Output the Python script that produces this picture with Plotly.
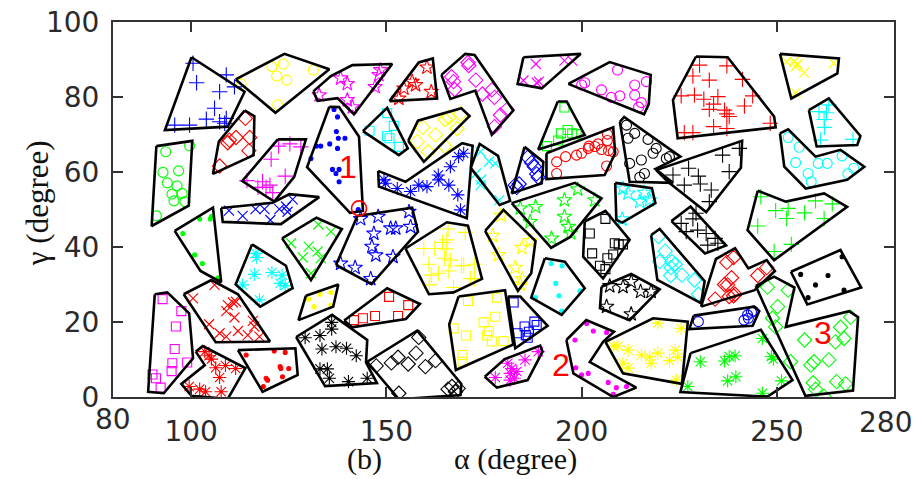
import plotly.graph_objects as go

# ---------------- data (alpha, gamma in degrees) ----------------
blue_plus_hull = [(100.1,90.6),(113.7,81.4),(109.4,72.1),(93.3,71.2)]
blue_plus_pts = [(100.5,89.0),(101.4,83.8),(109.0,85.9),(111.1,82.7),(107.3,81.4),(106.0,77.0),(103.9,74.1),(109.0,74.3),(108.6,73.0),(99.6,72.5),(95.8,72.5),(107.3,73.4)]

yellow_circle_hull = [(111.4,84.7),(123.9,91.5),(135.4,87.4),(121.6,75.8)]
yellow_circle_pts = [(120.7,88.1),(123.6,88.8),(121.9,85.6),(124.5,84.5),(131.3,87.2),(112.8,83.5),(122.2,77.9)]

red_diamond_a_hull = [(113.7,76.4),(116.2,74.9),(116.0,64.5),(105.6,59.5),(107.1,68.1)]
red_diamond_a_pts = [(113.9,74.3),(115.0,69.2),(111.5,69.2),(109.8,68.5),(109.4,67.8),(114.8,65.7),(107.3,61.6)]

green_circle_hull = [(91.1,66.9),(100.3,68.3),(99.4,51.0),(89.9,45.6)]
green_circle_pts = [(93.5,65.4),(99.6,67.0),(92.8,59.9),(96.8,60.3),(93.9,57.1),(96.4,56.3),(95.1,54.1),(97.7,54.3),(95.6,52.3),(98.4,52.1),(91.1,48.3)]

magenta_plus_hull = [(122.2,68.7),(129.4,68.7),(126.4,58.7),(121.3,52.1),(113.1,57.6)]
magenta_plus_pts = [(122.4,66.9),(125.3,67.5),(128.1,66.7),(120.5,63.4),(124.1,58.9),(118.3,57.4),(120.2,56.5),(119.2,55.9),(117.1,55.9),(120.9,54.5),(114.3,57.7)]

magenta_star_hull = [(131.3,81.5),(135.8,85.6),(141.3,88.5),(151.5,88.8),(141.7,75.4),(137.5,79.7),(132.4,79.0)]
magenta_star_pts = [(148.5,87.2),(148.1,85.9),(147.1,82.7),(138.3,85.0),(140.0,83.5),(132.8,80.5),(140.0,79.2),(141.3,77.3)]

red_star_hull = [(150.8,78.9),(158.3,89.2),(161.9,90.3),(163.0,79.6)]
red_star_pts = [(160.4,87.9),(156.6,84.1),(157.5,83.2),(154.5,82.3),(161.5,81.4),(153.2,79.6)]

magenta_diamond_hull = [(164.1,85.9),(170.2,91.5),(172.6,91.2),(182.5,76.4),(177.0,69.9),(172.8,81.7),(166.4,79.5)]
magenta_diamond_pts = [(170.9,89.2),(171.1,88.4),(166.7,85.4),(167.2,84.1),(167.5,82.0),(172.9,84.5),(174.6,80.8),(177.0,81.9),(177.7,79.9),(179.2,75.2),(180.9,76.7),(177.7,72.1)]

magenta_x_hull = [(185.1,90.6),(199.8,91.5),(189.8,82.3),(183.6,83.5)]
magenta_x_pts = [(188.3,88.8),(195.6,89.7),(197.6,89.7),(185.1,84.4),(188.5,83.8),(189.1,84.1)]

magenta_circle_hull = [(196.6,83.5),(207.2,89.3),(217.7,85.9),(217.2,78.1),(216.0,75.4)]
magenta_circle_pts = [(209.2,87.2),(200.8,83.8),(200.0,83.2),(205.1,81.9),(207.6,79.9),(209.8,80.3),(213.6,83.2),(213.6,80.5),(216.6,84.1),(215.3,78.5),(214.6,77.3)]

red_plus_hull = [(229.3,90.8),(237.4,90.6),(249.3,74.8),(249.7,71.9),(224.6,69.0),(223.4,79.2)]
red_plus_pts = [(230.2,88.5),(237.2,88.3),(228.5,85.6),(232.7,84.5),(241.2,84.7),(225.5,80.3),(228.9,80.5),(231.3,79.4),(234.9,80.1),(233.8,78.1),(243.8,80.3),(241.7,77.6),(232.7,76.7),(236.6,76.5),(237.2,75.5),(237.8,74.8),(248.3,73.0),(233.8,72.1),(237.2,71.6),(226.3,70.5),(228.5,70.5)]

yellow_x_hull = [(250.8,91.5),(265.9,90.3),(265.5,86.3),(253.7,79.6)]
yellow_x_pts = [(252.5,89.4),(254.4,89.4),(254.8,88.1),(255.3,88.8),(257.0,86.5),(264.6,89.0),(254.8,81.1)]

cyan_plus_hull = [(258.2,76.5),(263.3,79.6),(271.4,69.6),(270.6,67.2),(260.2,66.8)]
cyan_plus_pts = [(263.3,77.9),(260.8,76.1),(262.7,75.8),(262.1,74.0),(262.2,71.9),(261.2,68.5),(269.5,68.7)]

cyan_circle_hull = [(250.8,70.3),(252.9,71.4),(259.9,64.1),(266.3,65.9),(272.4,61.4),(268.0,57.9),(257.4,55.6),(251.9,61.4)]
cyan_circle_pts = [(252.9,69.2),(255.7,66.6),(254.8,62.5),(260.6,62.3),(262.9,62.3),(266.7,64.3),(269.7,61.0),(268.2,59.5),(258.0,59.6),(258.8,57.4)]

blue_dot_hull = [(135.4,77.4),(137.9,77.3),(143.0,69.4),(144.0,49.6),(140.7,49.1),(129.7,61.3)]
blue_dot_pts = [(136.6,76.7),(137.5,74.7),(137.2,70.8),(137.7,69.0),(139.4,69.0),(135.5,67.5),(132.1,66.9),(133.2,66.9),(137.5,66.3),(136.2,60.7),(137.9,60.7),(137.1,59.6),(137.9,57.4),(130.7,63.6),(142.8,50.0)]

cyan_square_hull = [(144.0,70.9),(150.2,77.1),(155.5,66.3),(153.2,64.5)]
cyan_square_pts = [(150.2,75.7),(151.9,72.3),(145.7,71.0),(150.2,69.6),(150.8,69.0),(153.2,66.7)]

yellow_diamond_hull = [(155.6,68.3),(158.1,73.7),(169.2,77.0),(171.3,74.9),(159.6,62.7)]
yellow_diamond_pts = [(159.3,71.9),(162.6,69.9),(165.0,74.0),(166.0,74.6),(169.0,75.5),(168.1,71.6),(165.0,66.8),(160.7,65.4),(157.9,68.1)]

blue_asterisk_hull = [(147.9,60.3),(154.9,57.4),(169.4,67.7),(172.1,67.0),(170.6,47.7),(148.1,56.1)]
blue_asterisk_pts = [(149.4,57.9),(149.8,57.0),(152.8,55.6),(156.2,54.8),(158.3,56.5),(160.4,56.1),(163.3,59.2),(163.4,57.9),(166.0,56.5),(166.4,61.4),(168.5,64.1),(169.8,65.0),(168.3,53.9),(169.0,49.9)]

cyan_x_hull = [(171.6,61.1),(173.9,67.5),(178.6,64.3),(181.7,52.3),(179.0,51.2)]
cyan_x_pts = [(174.1,65.4),(176.3,62.8),(177.9,62.3),(173.0,59.6),(174.3,58.0),(174.1,56.5),(178.9,52.5)]

blue_diamond_hull = [(185.4,66.7),(190.2,62.7),(189.8,57.0),(182.1,54.3)]
blue_diamond_pts = [(186.2,63.9),(187.2,62.5),(187.9,61.4),(188.5,59.5),(188.9,58.6),(183.0,56.5),(183.4,55.9),(184.0,56.8)]

green_square_hull = [(193.9,78.8),(196.2,78.8),(200.8,69.9),(188.9,66.0)]
green_square_pts = [(195.6,77.2),(194.7,70.3),(196.4,71.2),(197.6,70.3),(198.7,70.1),(191.1,66.9),(194.0,68.4)]

red_circle_hull = [(191.0,65.0),(208.1,71.9),(208.6,65.0),(205.9,59.2),(191.0,58.1)]
red_circle_pts = [(193.6,62.7),(195.9,64.1),(198.7,64.5),(200.0,65.0),(201.9,66.9),(204.2,67.5),(206.6,70.1),(206.6,68.4),(205.1,66.0),(206.9,65.7),(208.1,65.4),(206.4,61.6),(193.6,59.6),(201.7,66.3),(203.4,66.8)]

black_circle_hull = [(209.8,73.4),(210.9,74.7),(225.3,64.1),(218.9,60.8),(223.4,57.1),(212.3,57.4)]
black_circle_pts = [(211.5,72.5),(213.6,70.3),(211.9,69.0),(217.0,68.7),(219.1,66.3),(218.3,65.0),(221.7,63.6),(222.5,64.1),(212.3,62.3),(215.3,63.2),(216.1,59.6),(214.9,58.6)]

black_plus_a_hull = [(219.1,60.5),(241.1,68.3),(240.8,61.1),(231.9,49.3),(222.1,57.4)]
black_plus_a_pts = [(240.4,66.3),(236.1,64.5),(227.4,61.0),(229.9,58.9),(223.4,59.2),(230.4,56.8),(233.2,55.2),(226.3,56.5),(237.8,60.1),(232.7,52.1)]

cyan_star_hull = [(208.6,57.1),(218.0,55.7),(218.9,51.7),(210.4,46.5),(208.9,47.2)]
cyan_star_pts = [(210.6,55.6),(211.9,54.3),(216.1,54.5),(214.9,52.1),(217.4,52.5),(210.4,47.4)]

green_plus_hull = [(245.1,55.0),(252.3,52.1),(262.1,54.3),(268.0,50.7),(249.3,36.5),(242.5,44.5)]
green_plus_pts = [(245.9,53.4),(249.7,49.7),(252.9,50.3),(252.5,47.6),(257.1,49.1),(259.9,52.3),(264.2,51.5),(262.1,47.6),(245.1,45.6),(249.3,38.8),(253.7,40.7)]

blue_x_hull = [(107.7,50.4),(120.9,51.8),(125.2,54.1),(132.8,53.3),(123.0,46.1),(108.1,46.7)]
blue_x_pts = [(109.7,49.7),(113.2,48.3),(116.5,50.1),(118.8,50.1),(120.3,47.2),(122.6,50.1),(124.3,50.8),(126.0,52.7),(124.7,49.4)]

green_dot_hull = [(95.8,44.3),(105.6,50.5),(107.7,30.6),(102.4,33.6)]
green_dot_pts = [(102.2,47.5),(105.2,48.1),(104.9,47.5),(97.9,43.6),(100.9,37.9),(102.9,35.6),(106.9,31.8)]

cyan_asterisk_hull = [(115.6,40.7),(124.3,35.0),(126.0,29.0),(117.7,24.1),(111.4,30.0)]
cyan_asterisk_pts = [(116.6,38.3),(116.8,37.2),(116.2,32.7),(120.7,33.2),(123.3,32.5),(122.8,30.3),(124.1,29.7),(113.2,29.9),(117.5,25.9)]

green_x_hull = [(123.3,42.3),(132.1,47.8),(138.6,44.8),(130.7,31.2)]
green_x_pts = [(132.6,46.0),(135.8,44.1),(125.6,41.0),(130.1,40.1),(132.4,38.8),(128.6,37.2),(133.2,37.0),(130.7,33.0)]

blue_star_hull = [(137.1,35.2),(142.6,48.3),(156.6,50.5),(158.1,44.1),(146.2,30.1)]
blue_star_pts = [(143.4,47.5),(147.9,48.1),(155.8,49.4),(151.1,45.0),(152.4,45.0),(156.2,45.4),(146.8,43.6),(146.3,40.1),(147.3,37.8),(151.7,37.4),(146.0,31.5),(142.0,34.5),(138.3,35.6)]

yellow_plus_hull = [(154.9,39.6),(165.5,46.6),(170.9,45.7),(174.5,31.5),(167.2,27.9),(160.9,27.4)]
yellow_plus_pts = [(165.8,44.8),(170.2,43.9),(165.5,41.9),(164.4,41.2),(159.6,39.6),(162.4,39.6),(165.3,39.5),(164.9,37.0),(166.4,36.5),(160.9,35.4),(169.2,35.0),(169.8,35.0),(172.6,35.4),(166.0,33.6),(161.5,32.5),(163.3,33.0),(171.5,31.6),(172.6,31.5),(161.0,29.9),(167.2,29.2)]

yellow_star_hull = [(175.3,44.3),(180.0,49.9),(188.2,41.6),(187.1,33.0),(183.7,28.3)]
yellow_star_pts = [(179.4,48.4),(177.2,43.0),(178.7,37.9),(184.7,39.8),(186.8,41.6),(183.0,34.5),(184.8,31.5),(184.3,30.0)]

green_star_hull = [(182.1,51.7),(198.3,57.1),(205.1,53.0),(197.1,42.7),(192.2,39.8)]
green_star_pts = [(184.3,50.3),(188.2,50.7),(195.6,52.5),(199.0,55.4),(203.4,52.5),(195.6,48.1),(196.6,45.4),(197.2,43.7),(192.3,42.3),(186.8,46.7)]

black_square_hull = [(200.8,46.8),(206.1,49.6),(212.3,41.9),(205.5,31.6),(200.4,37.4)]
black_square_pts = [(206.1,47.5),(202.1,43.6),(208.5,41.0),(209.5,40.7),(210.6,40.7),(208.1,38.0),(206.6,37.0),(204.7,35.0),(206.1,34.1),(202.7,38.3)]

cyan_dot_hull = [(190.6,37.0),(195.7,36.1),(200.8,29.0),(194.9,21.9),(187.1,26.5)]
cyan_dot_pts = [(192.2,35.6),(195.0,35.0),(193.4,30.3),(199.6,28.3),(194.2,27.0),(188.2,26.5),(194.9,22.9)]

black_star_hull = [(205.1,29.4),(212.7,32.8),(220.0,28.7),(212.3,20.5),(204.7,23.7)]
black_star_pts = [(207.2,29.6),(210.6,29.4),(212.7,30.7),(215.1,28.1),(217.8,28.1),(206.4,24.1),(212.7,22.1)]

cyan_diamond_hull = [(217.8,43.2),(220.0,44.8),(231.5,30.9),(230.6,25.0),(219.4,31.2)]
cyan_diamond_pts = [(219.7,42.8),(221.4,38.9),(220.0,36.1),(223.1,36.1),(224.0,35.4),(222.9,34.5),(222.8,32.4),(225.7,32.5),(228.9,31.2),(229.9,27.4)]

black_plus_b_hull = [(223.0,46.9),(227.9,50.8),(237.0,40.4),(231.6,38.3)]
black_plus_b_pts = [(225.5,46.3),(228.5,47.5),(226.8,44.1),(229.7,44.5),(231.9,43.6),(234.2,42.3),(232.3,40.5),(234.9,41.0),(229.3,49.0)]

red_diamond_b_hull = [(230.6,24.1),(234.4,36.8),(239.3,39.7),(242.7,34.3),(247.4,36.5),(249.5,33.6),(244.3,28.5)]
red_diamond_b_pts = [(237.2,35.9),(238.9,37.2),(238.4,31.8),(236.6,30.0),(237.4,29.9),(234.2,26.1),(237.8,26.8),(239.3,27.4),(238.9,27.0),(245.1,32.4),(247.4,34.5)]

green_diamond_hull = [(244.6,29.6),(249.3,32.1),(254.5,29.2),(252.3,18.7),(268.5,22.9),(270.8,21.3),(269.5,1.7),(257.3,0.3)]
green_diamond_pts = [(247.6,29.3),(252.9,28.5),(250.2,24.1),(248.9,21.0),(249.7,18.7),(257.1,15.2),(266.3,18.6),(267.2,15.6),(265.0,14.7),(263.3,9.9),(259.5,9.4),(258.7,8.5),(253.5,9.4),(259.3,3.8),(265.3,4.1),(267.6,3.5),(259.9,2.1),(262.1,0.1),(268.9,21.3)]

black_dot_hull = [(253.6,33.4),(266.3,39.2),(271.6,29.2),(257.8,24.7)]
black_dot_pts = [(256.1,32.7),(263.1,32.4),(259.9,29.9),(258.0,26.5),(267.2,28.5),(266.7,37.4)]

blue_circle_hull = [(228.7,21.7),(244.2,24.1),(245.5,22.9),(243.8,19.0),(227.6,18.1)]
blue_circle_pts = [(229.9,20.1),(241.6,20.5),(242.5,21.9),(243.5,22.6),(244.0,22.9),(242.7,21.0)]

green_asterisk_hull = [(227.9,11.7),(245.9,17.9),(254.0,4.5),(247.6,0.1),(225.3,1.3)]
green_asterisk_pts = [(230.4,9.4),(236.6,9.6),(237.8,10.8),(239.3,11.0),(237.4,4.3),(239.5,5.4),(246.3,15.6),(248.6,10.8),(249.1,10.1),(251.2,4.3),(227.2,2.8),(246.3,1.0)]

yellow_asterisk_hull = [(206.1,14.7),(218.3,21.0),(227.2,20.1),(225.7,3.5),(210.6,6.3)]
yellow_asterisk_pts = [(219.5,19.7),(225.5,18.3),(208.1,13.6),(209.3,13.6),(211.9,12.5),(215.3,11.2),(217.4,10.7),(219.5,11.7),(217.8,9.0),(222.5,9.7),(224.0,12.5),(224.6,10.6),(210.6,9.0),(211.9,7.7),(224.2,4.5)]

magenta_dot_hull = [(196.1,15.2),(201.2,20.5),(208.3,17.4),(205.5,14.7),(202.1,9.3),(214.0,2.5),(208.1,0.0),(197.9,6.3)]
magenta_dot_pts = [(201.3,19.6),(203.0,17.6),(206.4,17.2),(198.3,15.2),(198.5,7.8),(201.7,6.3),(200.0,5.9),(206.8,3.9),(208.9,2.5),(211.5,2.8),(208.1,0.7)]

magenta_asterisk_hull = [(175.2,5.4),(180.3,10.1),(189.4,13.7),(190.0,12.1),(186.2,4.5),(178.3,2.5)]
magenta_asterisk_pts = [(177.9,5.2),(181.1,9.0),(182.1,7.6),(181.7,6.3),(183.4,6.8),(182.8,5.0),(181.7,4.5),(185.5,9.9),(188.9,12.1)]

blue_square_hull = [(181.1,26.8),(184.3,26.8),(191.3,19.0),(183.0,13.0)]
blue_square_pts = [(182.6,25.2),(185.4,18.8),(187.9,20.1),(188.5,19.2),(186.5,17.4),(183.6,17.0),(185.7,16.5),(186.2,15.8)]

yellow_square_hull = [(168.5,26.8),(180.4,28.5),(182.5,14.0),(167.8,7.2),(166.1,19.4)]
yellow_square_pts = [(170.9,25.6),(178.3,26.5),(177.9,21.4),(174.9,19.9),(176.2,17.6),(175.8,16.4),(177.0,14.8),(180.0,14.9),(170.4,16.4),(167.2,18.3),(169.5,11.2),(169.5,9.4)]

black_diamond_hull = [(145.1,9.4),(157.9,17.7),(169.2,3.5),(169.0,0.5),(153.2,-0.6)]
black_diamond_pts = [(147.4,8.3),(151.3,9.1),(153.0,10.6),(155.6,8.8),(157.6,11.7),(160.0,8.1),(162.6,9.7),(158.3,15.9),(153.2,1.0),(165.8,2.1),(166.8,2.8),(167.7,1.4),(168.4,2.3)]

black_asterisk_hull = [(126.9,16.0),(136.1,21.9),(145.1,15.2),(144.8,9.2),(147.6,3.7),(134.3,2.9)]
black_asterisk_pts = [(129.2,15.8),(133.0,16.4),(136.0,19.9),(136.0,18.1),(133.5,12.8),(137.1,13.4),(139.8,13.0),(142.3,11.0),(133.0,7.5),(134.9,7.5),(135.4,5.0),(140.3,4.1),(145.1,5.0)]

yellow_dot_hull = [(129.4,27.0),(137.7,30.0),(136.4,24.1),(127.5,20.5)]
yellow_dot_pts = [(130.1,26.1),(133.0,27.4),(135.8,27.9),(131.5,24.1),(135.8,24.5)]

red_square_hull = [(139.2,20.4),(150.2,29.0),(158.6,24.8),(155.0,20.8),(141.2,18.6)]
red_square_pts = [(141.7,20.5),(144.0,21.0),(147.1,21.6),(150.7,26.7),(153.0,21.6),(155.6,24.5)]

red_x_hull = [(98.1,27.4),(105.2,31.2),(112.0,27.4),(120.2,14.8),(106.3,14.6)]
red_x_pts = [(100.5,26.3),(106.0,29.9),(110.7,25.2),(109.4,24.5),(111.5,25.4),(109.0,22.9),(111.1,21.2),(104.6,19.4),(115.8,20.3),(116.2,18.8),(107.3,17.0),(109.0,16.1),(112.0,17.6),(114.5,16.5),(117.5,16.1)]

magenta_square_hull = [(90.7,27.4),(93.9,27.9),(99.5,22.3),(100.5,10.3),(93.0,1.0),(89.0,1.4)]
magenta_square_pts = [(92.7,26.1),(97.5,22.9),(96.1,18.8),(95.8,12.8),(99.0,9.2),(95.2,9.0),(95.0,6.9),(90.1,6.0),(91.0,5.0),(92.2,2.5)]

red_asterisk_hull = [(101.2,12.1),(103.0,13.6),(113.9,7.7),(109.4,-0.5),(100.1,0.3),(97.5,3.5),(103.5,8.5)]
red_asterisk_pts = [(103.5,12.1),(104.6,11.0),(105.2,10.1),(106.3,7.8),(108.8,8.4),(111.4,7.6),(107.3,5.2),(99.5,2.8),(102.2,2.1),(103.7,1.4),(107.7,1.4)]

red_dot_hull = [(112.0,12.5),(126.7,13.0),(127.3,5.9),(118.3,1.4)]
red_dot_pts = [(114.1,11.2),(121.3,12.3),(124.1,11.9),(122.8,8.1),(123.0,7.6),(125.0,7.6),(119.2,5.0),(119.6,4.5),(123.4,5.4),(118.5,2.8)]

marked_point = (143.0, 50.3)
region_labels = ["1", "2", "3"]
region_label_pos = [(140.3, 61.4), (194.8, 8.5), (261.9, 17.0)]

x_ticks = [100, 150, 200, 250]
y_ticks = [0, 20, 40, 60, 80, 100]

# ---------------- styles ----------------
COLORS = {"b": "#0000ff", "r": "#ff0000", "g": "#00ff00", "y": "#ffff00",
          "c": "#00ffff", "m": "#ff00ff", "k": "#000000"}
SYMBOLS = {"+": ("cross-thin-open", 11), "x": ("x-thin-open", 10), "o": ("circle-open", 10),
           "d": ("diamond-open", 11), "s": ("square-open", 9), "p": ("star-open", 11),
           "*": ("asterisk-open", 11), ".": ("circle", 4)}

CLUSTERS = [
    (blue_plus_hull, blue_plus_pts, "b", "+"),
    (yellow_circle_hull, yellow_circle_pts, "y", "o"),
    (red_diamond_a_hull, red_diamond_a_pts, "r", "d"),
    (green_circle_hull, green_circle_pts, "g", "o"),
    (magenta_plus_hull, magenta_plus_pts, "m", "+"),
    (magenta_star_hull, magenta_star_pts, "m", "p"),
    (red_star_hull, red_star_pts, "r", "p"),
    (magenta_diamond_hull, magenta_diamond_pts, "m", "d"),
    (magenta_x_hull, magenta_x_pts, "m", "x"),
    (magenta_circle_hull, magenta_circle_pts, "m", "o"),
    (red_plus_hull, red_plus_pts, "r", "+"),
    (yellow_x_hull, yellow_x_pts, "y", "x"),
    (cyan_plus_hull, cyan_plus_pts, "c", "+"),
    (cyan_circle_hull, cyan_circle_pts, "c", "o"),
    (blue_dot_hull, blue_dot_pts, "b", "."),
    (cyan_square_hull, cyan_square_pts, "c", "s"),
    (yellow_diamond_hull, yellow_diamond_pts, "y", "d"),
    (blue_asterisk_hull, blue_asterisk_pts, "b", "*"),
    (cyan_x_hull, cyan_x_pts, "c", "x"),
    (blue_diamond_hull, blue_diamond_pts, "b", "d"),
    (green_square_hull, green_square_pts, "g", "s"),
    (red_circle_hull, red_circle_pts, "r", "o"),
    (black_circle_hull, black_circle_pts, "k", "o"),
    (black_plus_a_hull, black_plus_a_pts, "k", "+"),
    (cyan_star_hull, cyan_star_pts, "c", "p"),
    (green_plus_hull, green_plus_pts, "g", "+"),
    (blue_x_hull, blue_x_pts, "b", "x"),
    (green_dot_hull, green_dot_pts, "g", "."),
    (cyan_asterisk_hull, cyan_asterisk_pts, "c", "*"),
    (green_x_hull, green_x_pts, "g", "x"),
    (blue_star_hull, blue_star_pts, "b", "p"),
    (yellow_plus_hull, yellow_plus_pts, "y", "+"),
    (yellow_star_hull, yellow_star_pts, "y", "p"),
    (green_star_hull, green_star_pts, "g", "p"),
    (black_square_hull, black_square_pts, "k", "s"),
    (cyan_dot_hull, cyan_dot_pts, "c", "."),
    (black_star_hull, black_star_pts, "k", "p"),
    (cyan_diamond_hull, cyan_diamond_pts, "c", "d"),
    (black_plus_b_hull, black_plus_b_pts, "k", "+"),
    (red_diamond_b_hull, red_diamond_b_pts, "r", "d"),
    (green_diamond_hull, green_diamond_pts, "g", "d"),
    (black_dot_hull, black_dot_pts, "k", "."),
    (blue_circle_hull, blue_circle_pts, "b", "o"),
    (green_asterisk_hull, green_asterisk_pts, "g", "*"),
    (yellow_asterisk_hull, yellow_asterisk_pts, "y", "*"),
    (magenta_dot_hull, magenta_dot_pts, "m", "."),
    (magenta_asterisk_hull, magenta_asterisk_pts, "m", "*"),
    (blue_square_hull, blue_square_pts, "b", "s"),
    (yellow_square_hull, yellow_square_pts, "y", "s"),
    (black_diamond_hull, black_diamond_pts, "k", "d"),
    (black_asterisk_hull, black_asterisk_pts, "k", "*"),
    (yellow_dot_hull, yellow_dot_pts, "y", "."),
    (red_square_hull, red_square_pts, "r", "s"),
    (red_x_hull, red_x_pts, "r", "x"),
    (magenta_square_hull, magenta_square_pts, "m", "s"),
    (red_asterisk_hull, red_asterisk_pts, "r", "*"),
    (red_dot_hull, red_dot_pts, "r", "."),
]

fig = go.Figure()

for hull, pts, c, s in CLUSTERS:
    col = COLORS[c]
    sym, size = SYMBOLS[s]
    fig.add_trace(go.Scatter(
        x=[p[0] for p in pts], y=[p[1] for p in pts], mode="markers",
        marker=dict(symbol=sym, size=size, color=col,
                    line=dict(color=col, width=1.1)),
        hoverinfo="skip", showlegend=False))

for hull, pts, c, s in CLUSTERS:
    hx = [p[0] for p in hull] + [hull[0][0]]
    hy = [p[1] for p in hull] + [hull[0][1]]
    fig.add_trace(go.Scatter(
        x=hx, y=hy, mode="lines", line=dict(color="black", width=2.6),
        hoverinfo="skip", showlegend=False))

fig.add_trace(go.Scatter(
    x=[marked_point[0]], y=[marked_point[1]], mode="markers",
    marker=dict(symbol="circle-open", size=15, color="#ff0000",
                line=dict(color="#ff0000", width=1.6)),
    hoverinfo="skip", showlegend=False))

for txt, (lx, ly) in zip(region_labels, region_label_pos):
    fig.add_annotation(x=lx, y=ly, xref="x", yref="y", text=txt, showarrow=False,
                       font=dict(family="Liberation Sans, Arial", size=32, color="#ff0000"))

tick_font = dict(family="DejaVu Sans", size=28, color="#2a2a2a")
axis_common = dict(showline=True, linecolor="#333333", linewidth=2, mirror="ticks",
                   ticks="inside", ticklen=10, tickwidth=2, tickcolor="#333333",
                   showgrid=False, zeroline=False, tickfont=tick_font, automargin=False,
                   ticklabeloverflow="allow")

fig.update_xaxes(range=[80, 280], tickvals=x_ticks, ticktext=[str(v) for v in x_ticks],
                 ticklabelstandoff=8, **axis_common)
fig.update_yaxes(range=[0, 100], tickvals=y_ticks, ticktext=[str(v) for v in y_ticks],
                 ticklabelstandoff=6, **axis_common)

# end labels of the alpha axis, placed as in the original figure
fig.add_annotation(x=80, y=0, xref="x", yref="paper", yshift=-22, text="80",
                   showarrow=False, font=tick_font, yanchor="middle")
fig.add_annotation(x=277.7, y=0, xref="x", yref="paper", yshift=-25, text="280",
                   showarrow=False, font=tick_font, yanchor="middle")

serif = dict(family="Liberation Serif, Times New Roman", size=30, color="#111111")
fig.add_annotation(x=0.297, y=-0.166, xref="paper", yref="paper", text="(b)",
                   showarrow=False, font=serif, yanchor="middle")
fig.add_annotation(x=0.515, y=-0.166, xref="paper", yref="paper", text="α (degree)",
                   showarrow=False, font=serif, yanchor="middle")
fig.add_annotation(x=-0.0973, y=0.517, xref="paper", yref="paper", text="γ (degree)",
                   showarrow=False, font=dict(serif, size=31), textangle=-90,
                   xanchor="center", yanchor="middle")

# the page adds an 8 px body margin, so the figure is sized to land the plot
# frame where it sits in the original picture
fig.update_layout(width=913, height=471, margin=dict(l=105, r=27, t=14, b=82, autoexpand=False),
                  plot_bgcolor="white", paper_bgcolor="white", showlegend=False)

fig.write_html("out.html")
